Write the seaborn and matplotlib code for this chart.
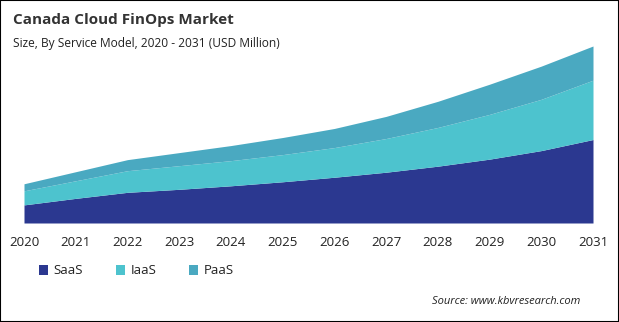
import numpy as np
import pandas as pd
import seaborn as sns
import matplotlib.pyplot as plt
from matplotlib.patches import Patch, Rectangle

years = [2020, 2021, 2022, 2023, 2024, 2025, 2026, 2027, 2028, 2029, 2030, 2031]
saas = [18, 24.5, 30.5, 33.5, 37, 41, 45.5, 50.5, 56.5, 63.5, 72, 83]
iaas = [14, 17.5, 21.5, 23.5, 25, 27, 29.5, 33.5, 38.5, 44.5, 51, 59]
paas = [7, 9, 11, 13, 15, 17, 19, 22, 26, 30, 33, 34]
series_names = ["SaaS", "IaaS", "PaaS"]
colors = ["#2b3890", "#4dc3ce", "#4aa9c1"]

df = pd.DataFrame({"Year": years, "SaaS": saas, "IaaS": iaas, "PaaS": paas})

sns.set_theme(style="white")
plt.rcParams["font.family"] = ["Open Sans", "DejaVu Sans"]

W, H = 619, 322
fig = plt.figure(figsize=(W / 100, H / 100), dpi=100)
left, right, base, top = 24, 593, 223, 46
ax = fig.add_axes([left / W, (H - base) / H, (right - left) / W, (base - top) / H])

cum = np.zeros(len(years))
for name, col in zip(series_names, colors):
    vals = df[name].to_numpy(dtype=float)
    ax.fill_between(df["Year"], cum, cum + vals, color=col, linewidth=0)
    cum = cum + vals

ax.set_xlim(2020, 2031)
ax.set_ylim(0, cum.max())
ax.set_xticks(years)
ax.set_xticklabels([str(y) for y in years], fontsize=9.5, color="#222222")
ax.tick_params(axis="x", length=0, pad=9)
ax.set_yticks([])
for s in ax.spines.values():
    s.set_visible(False)

fig.text(13 / W, 1 - 20 / H, "Canada Cloud FinOps Market", fontsize=11,
         fontweight="bold", color="#333333", va="center", ha="left")
fig.text(13 / W, 1 - 43 / H, "Size, By Service Model, 2020 - 2031 (USD Million)",
         fontsize=8.6, color="#222222", va="center", ha="left")

handles = [Patch(facecolor=c, edgecolor="none") for c in colors]
fig.legend(handles, series_names, loc="center left",
           bbox_to_anchor=(27 / W, 1 - 271 / H), ncol=3, frameon=False,
           fontsize=9.5, handlelength=0.7, handleheight=0.7, handletextpad=0.4,
           columnspacing=2.5, labelcolor="#222222")

fig.text(580 / W, 1 - 302 / H, "Source: www.kbvresearch.com", fontsize=8,
         style="italic", color="#222222", ha="right", va="center")

fig.patches.append(Rectangle((0, 0), 1, 1, transform=fig.transFigure,
                             fill=False, edgecolor="black", linewidth=1.5))

fig.savefig("out.png", dpi=100)
